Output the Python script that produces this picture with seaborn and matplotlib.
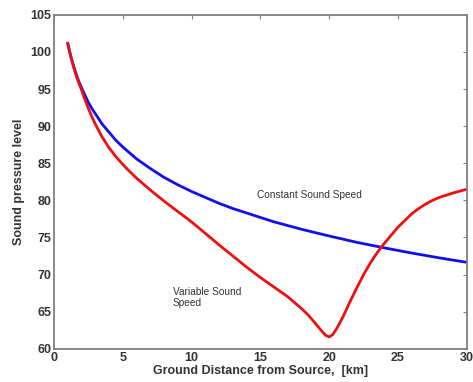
import numpy as np
import pandas as pd
import matplotlib
matplotlib.use("Agg")
import matplotlib.pyplot as plt
import seaborn as sns

# Constant sound speed curve
const_x = [1.0, 1.1, 1.2, 1.35, 1.5, 1.75, 2.0, 2.25, 2.5, 2.75, 3.0, 3.5, 4.0, 4.5, 5.0, 6.0,
           7.0, 8.0, 9.0, 10.0, 11.0, 12.0, 13.0, 14.0, 16.0, 18.0, 20.0, 22.0, 24.0, 26.0,
           28.0, 30.0]
const_y = [101.2, 100.4, 99.6, 98.6, 97.7, 96.3, 95.2, 94.2, 93.2, 92.4, 91.7, 90.3, 89.2,
           88.1, 87.2, 85.6, 84.3, 83.1, 82.1, 81.2, 80.4, 79.6, 78.9, 78.3, 77.1, 76.1, 75.2,
           74.35, 73.6, 72.9, 72.25, 71.65]

# Variable sound speed curve
var_x = [1.0, 1.1, 1.2, 1.35, 1.5, 1.75, 2.0, 2.25, 2.5, 2.75, 3.0, 3.5, 4.0, 4.5, 5.0, 5.5,
         6.0, 7.0, 8.0, 9.0, 10.0, 11.0, 12.0, 13.0, 14.0, 15.0, 16.0, 17.0, 17.5, 18.0,
         18.5, 19.0, 19.5, 19.75, 20.0, 20.25, 20.5, 20.75, 21.0, 21.5, 22.0, 22.5, 23.0,
         23.5, 24.0, 24.5, 25.0, 25.5, 26.0, 26.5, 27.0, 27.5, 28.0, 28.5, 29.0, 29.5, 30.0]
var_y = [101.2, 100.35, 99.55, 98.5, 97.5, 96.1, 94.9, 93.6, 92.4, 91.3, 90.3, 88.55, 87.1,
         85.9, 84.85, 83.9, 83.0, 81.4, 79.9, 78.5, 77.1, 75.55, 74.0, 72.5, 71.0, 69.6, 68.3,
         67.0, 66.2, 65.4, 64.5, 63.4, 62.3, 61.8, 61.6, 61.9, 62.6, 63.4, 64.3, 66.3, 68.2,
         70.0, 71.6, 73.0, 74.2, 75.3, 76.4, 77.3, 78.2, 78.9, 79.5, 80.0, 80.4, 80.7, 81.0,
         81.25, 81.5]

x_ticks = [0, 5, 10, 15, 20, 25, 30]
y_ticks = [60, 65, 70, 75, 80, 85, 90, 95, 100, 105]

df = pd.concat([
    pd.DataFrame({"x": const_x, "y": const_y, "s": "Constant"}),
    pd.DataFrame({"x": var_x, "y": var_y, "s": "Variable"}),
])

sns.set_style("white")
plt.rcParams["font.family"] = ["Liberation Sans", "DejaVu Sans"]

fig = plt.figure(figsize=(4.73, 3.82), dpi=100)
ax = fig.add_axes([0.114, 0.087, 0.873, 0.874])

sns.lineplot(data=df, x="x", y="y", hue="s", palette={"Constant": "#1010ee", "Variable": "#ee1010"},
             linewidth=2.0, legend=False, ax=ax, sort=False, estimator=None)
for ln in ax.get_lines():
    ln.set_solid_joinstyle("round")
    ln.set_solid_capstyle("round")

ax.set_xlim(0, 30)
ax.set_ylim(60, 105)
ax.set_xticks(x_ticks)
ax.set_yticks(y_ticks)
ax.tick_params(direction="in", length=3, width=0.8, color="#808080",
               top=True, right=True, labelsize=9, labelcolor="#333333", pad=2)
for lab in ax.get_xticklabels() + ax.get_yticklabels():
    lab.set_fontweight("bold")
for sp in ax.spines.values():
    sp.set_visible(True)
    sp.set_color("#808080")
    sp.set_linewidth(1.3)

ax.set_xlabel("Ground Distance from Source,  [km]", fontsize=9, fontweight="bold", color="#333333", labelpad=1)
ax.set_ylabel("Sound pressure level", fontsize=9, fontweight="bold", color="#333333", labelpad=4)

ax.text(14.75, 80.7, "Constant Sound Speed", fontsize=7.3, color="#333333", va="center", ha="left")
ax.text(8.65, 66.9, "Variable Sound\nSpeed", fontsize=7.3, color="#333333", va="center", ha="left",
        linespacing=1.1)

fig.savefig("out.png", dpi=100)
